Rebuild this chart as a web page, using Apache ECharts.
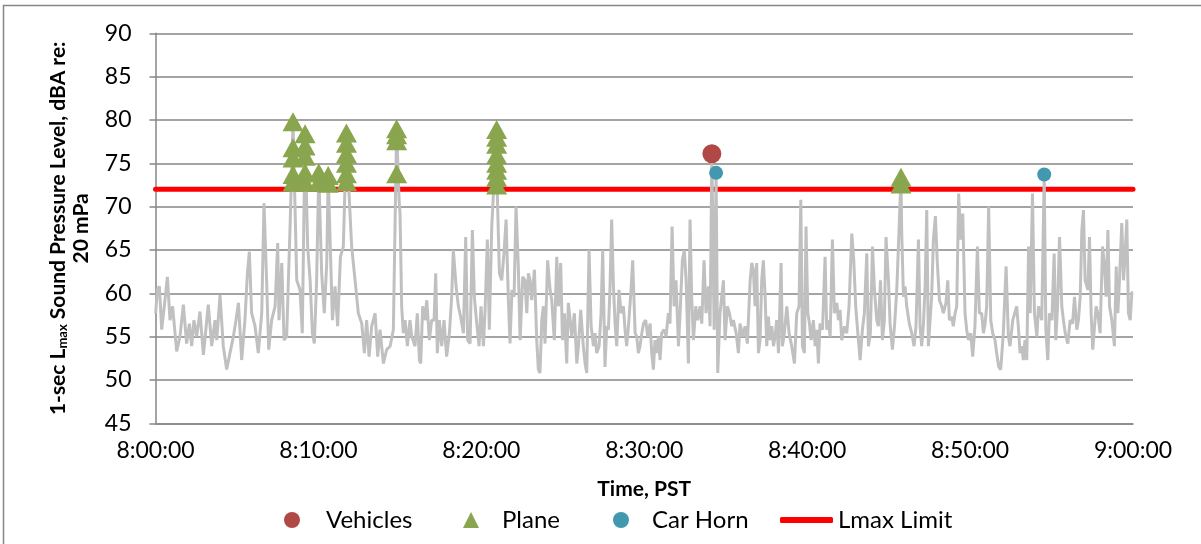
<!DOCTYPE html>
<html><head><meta charset="utf-8">
<script src="https://cdn.jsdelivr.net/npm/echarts/dist/echarts.min.js"></script>
<style>html,body{margin:0;padding:0;background:#fff}#c{width:1201px;height:544px}</style>
</head><body><div id="c"></div><script>
// x values are minutes after 8:00:00
const xTickLabels = ['8:00:00','8:10:00','8:20:00','8:30:00','8:40:00','8:50:00','9:00:00'];
const lmaxLimit = 72;
const lmaxTrace = [
[0.01,57.7],[0.11,60.4],[0.24,60.8],[0.38,55.8],[0.58,59.2],[0.73,61.9],[0.89,56.9],[1.05,58.5],[1.30,53.3],[1.50,55.0],
[1.71,58.7],[1.91,54.2],[2.08,56.5],[2.22,53.9],[2.36,56.9],[2.53,55.0],[2.73,57.9],[2.94,52.9],[3.24,58.7],[3.45,53.9],
[3.65,56.9],[3.76,54.6],[3.96,59.8],[4.16,53.9],[4.37,51.2],[4.57,53.1],[4.78,55.0],[4.94,56.9],[5.09,58.9],[5.29,52.3],
[5.49,56.9],[5.64,62.3],[5.76,64.8],[5.90,57.7],[6.11,56.2],[6.31,53.1],[6.52,57.7],[6.66,70.4],[6.82,61.5],[6.95,53.5],
[7.13,56.9],[7.34,58.5],[7.50,65.8],[7.58,56.9],[7.75,63.5],[7.89,54.6],[8.05,55.0],[8.26,67.7],[8.44,79.8],[8.67,61.5],
[8.87,60.4],[9.01,55.4],[9.18,78.4],[9.34,65.4],[9.49,61.5],[9.63,55.4],[9.75,54.2],[9.89,61.5],[10.02,73.9],[10.20,62.3],
[10.36,57.7],[10.51,63.5],[10.60,73.6],[10.86,56.9],[11.02,60.8],[11.18,56.2],[11.35,64.2],[11.53,65.4],[11.72,78.5],[11.88,71.5],
[12.04,65.4],[12.25,61.5],[12.45,57.7],[12.66,56.5],[12.82,53.1],[12.96,56.9],[13.11,52.7],[13.27,56.2],[13.48,57.7],[13.64,52.7],
[13.78,55.8],[13.99,51.9],[14.19,53.5],[14.40,53.9],[14.60,55.8],[14.80,79.0],[14.95,70.8],[15.01,69.2],[15.11,58.5],[15.21,55.4],
[15.32,56.9],[15.46,53.9],[15.62,56.9],[15.73,55.0],[15.93,53.9],[16.07,57.7],[16.20,52.3],[16.28,51.9],[16.40,58.5],[16.54,56.9],
[16.65,59.2],[16.81,54.6],[16.95,56.9],[17.10,56.9],[17.20,62.3],[17.30,53.1],[17.42,56.9],[17.57,53.9],[17.71,56.9],[17.87,52.7],
[18.04,55.4],[18.18,59.6],[18.28,65.0],[18.45,60.8],[18.59,58.5],[18.73,57.3],[18.90,55.4],[19.04,66.5],[19.16,54.6],[19.31,54.2],
[19.45,67.3],[19.57,59.6],[19.72,56.5],[19.86,53.9],[19.98,58.5],[20.13,53.9],[20.23,58.1],[20.37,66.2],[20.49,55.8],[20.64,67.7],
[20.94,78.9],[20.98,71.5],[21.11,62.3],[21.25,61.5],[21.39,64.6],[21.52,68.5],[21.66,59.2],[21.76,54.2],[21.88,60.4],[22.01,59.6],
[22.13,70.0],[22.27,63.1],[22.38,54.6],[22.54,61.9],[22.68,61.5],[22.79,57.7],[22.89,62.3],[22.99,61.5],[23.09,59.2],[23.26,62.7],
[23.40,54.6],[23.50,51.2],[23.60,50.8],[23.71,56.9],[23.81,58.5],[23.91,54.2],[24.07,63.8],[24.22,60.4],[24.32,59.2],[24.48,54.6],
[24.63,64.2],[24.73,58.5],[24.87,63.5],[24.98,54.6],[25.10,57.7],[25.24,51.9],[25.34,58.9],[25.45,56.9],[25.55,55.0],[25.71,57.7],
[25.86,51.9],[25.96,53.9],[26.10,58.1],[26.26,53.9],[26.37,51.9],[26.47,50.8],[26.61,65.0],[26.74,56.2],[26.88,53.9],[26.98,55.4],
[27.08,53.1],[27.23,53.9],[27.35,57.7],[27.45,65.0],[27.59,51.5],[27.70,56.2],[27.80,55.8],[27.90,60.8],[28.00,68.5],[28.11,60.8],
[28.21,56.5],[28.31,53.9],[28.45,60.4],[28.58,57.7],[28.72,58.5],[28.82,55.8],[28.92,53.9],[29.03,56.2],[29.19,60.4],[29.29,63.8],
[29.44,55.4],[29.54,55.0],[29.64,53.1],[29.74,53.9],[29.85,55.4],[29.95,56.5],[30.09,56.9],[30.21,55.0],[30.36,56.5],[30.46,53.1],
[30.56,51.2],[30.66,54.6],[30.77,53.1],[30.87,55.0],[30.97,52.3],[31.07,55.4],[31.22,55.8],[31.34,55.0],[31.48,57.7],[31.58,56.5],
[31.71,67.7],[31.83,58.5],[31.95,61.5],[32.10,53.9],[32.20,57.7],[32.34,63.8],[32.46,65.0],[32.57,61.5],[32.71,51.9],[32.81,68.5],
[32.91,59.6],[33.02,54.6],[33.16,58.5],[33.28,56.9],[33.43,58.5],[33.53,56.5],[33.67,63.8],[33.79,57.7],[33.94,60.8],[34.04,56.2],
[34.15,76.1],[34.29,55.8],[34.41,73.9],[34.51,50.8],[34.65,57.7],[34.86,61.5],[34.96,54.6],[35.10,58.5],[35.23,57.7],[35.37,56.2],
[35.47,56.9],[35.64,55.4],[35.78,53.1],[35.88,56.5],[36.05,55.0],[36.19,56.2],[36.33,54.2],[36.50,61.5],[36.60,63.5],[36.70,62.7],
[36.80,58.5],[36.90,63.5],[37.01,53.1],[37.11,54.6],[37.21,61.5],[37.31,63.8],[37.42,59.6],[37.52,53.9],[37.62,57.3],[37.72,54.6],
[37.83,56.2],[37.93,53.9],[38.03,55.0],[38.13,56.9],[38.24,53.1],[38.40,63.5],[38.48,53.9],[38.60,55.4],[38.75,58.5],[38.89,55.4],
[39.05,53.9],[39.22,51.9],[39.36,57.7],[39.50,58.5],[39.61,70.8],[39.71,53.9],[39.83,53.1],[39.93,67.7],[40.04,57.7],[40.14,56.5],
[40.24,54.6],[40.38,56.9],[40.49,53.9],[40.59,55.8],[40.69,51.9],[40.79,56.5],[40.94,55.8],[41.10,64.2],[41.20,55.8],[41.30,56.9],
[41.41,55.0],[41.55,66.2],[41.67,57.7],[41.82,58.9],[41.92,56.9],[42.02,58.1],[42.12,54.6],[42.29,56.2],[42.43,55.4],[42.57,58.5],
[42.74,66.9],[42.86,63.8],[42.98,58.5],[43.11,55.4],[43.25,52.3],[43.39,55.8],[43.51,57.7],[43.66,64.6],[43.76,53.9],[43.88,55.4],
[44.01,65.4],[44.13,60.4],[44.27,56.9],[44.37,56.2],[44.50,61.5],[44.62,54.6],[44.74,56.9],[44.84,66.5],[44.99,61.5],[45.09,56.5],
[45.23,53.5],[45.36,56.2],[45.50,60.4],[45.76,73.4],[45.80,67.3],[45.91,59.6],[46.01,60.8],[46.11,58.5],[46.27,56.5],[46.42,55.4],
[46.56,53.9],[46.68,56.2],[46.83,66.2],[46.93,56.2],[47.03,53.9],[47.13,56.2],[47.24,60.8],[47.34,69.6],[47.44,53.9],[47.54,53.9],
[47.64,59.6],[47.75,66.2],[47.87,68.9],[47.99,63.5],[48.12,59.2],[48.26,58.5],[48.36,57.7],[48.52,58.9],[48.63,61.5],[48.73,56.9],
[48.87,57.3],[48.97,56.2],[49.08,57.7],[49.18,58.5],[49.30,71.5],[49.42,66.2],[49.55,69.2],[49.69,57.7],[49.79,55.8],[49.90,54.6],
[50.04,55.4],[50.16,52.7],[50.30,56.2],[50.45,65.4],[50.57,57.7],[50.71,57.7],[50.82,55.4],[50.92,56.5],[51.02,58.5],[51.14,70.0],
[51.27,56.9],[51.39,55.4],[51.53,54.6],[51.63,53.1],[51.76,51.5],[51.88,51.2],[52.04,55.4],[52.21,63.1],[52.35,55.0],[52.45,53.9],
[52.62,56.9],[52.74,57.7],[52.86,58.5],[52.96,56.2],[53.07,53.1],[53.17,53.9],[53.27,52.3],[53.37,54.6],[53.48,52.3],[53.59,65.4],
[53.69,57.7],[53.83,71.5],[53.95,57.7],[54.10,55.0],[54.20,58.5],[54.30,57.7],[54.40,56.9],[54.55,73.7],[54.65,55.8],[54.77,52.3],
[54.87,57.7],[55.02,56.9],[55.16,64.6],[55.26,54.6],[55.37,58.5],[55.49,66.5],[55.63,58.5],[55.73,56.9],[55.84,55.4],[56.00,54.2],
[56.14,56.9],[56.29,56.5],[56.41,59.6],[56.55,55.8],[56.65,56.9],[56.76,59.6],[56.86,67.3],[56.96,69.6],[57.06,61.5],[57.23,60.4],
[57.33,66.5],[57.43,57.7],[57.53,53.5],[57.64,56.2],[57.74,58.5],[57.84,57.7],[57.98,55.4],[58.13,65.4],[58.25,63.1],[58.35,59.6],
[58.46,67.3],[58.56,58.5],[58.70,56.9],[58.86,53.9],[58.97,63.1],[59.07,57.7],[59.17,61.5],[59.31,68.1],[59.42,61.5],[59.52,64.6],
[59.62,68.5],[59.72,57.7],[59.83,56.9],[59.93,60.1],[60.00,60.1]
];
const planeMinutes = [8.44,8.44,8.44,8.44,8.44, 9.18,9.18,9.18,9.18,9.18, 10.02,10.02, 10.60,10.60,
  11.72,11.72,11.72,11.72,11.72,11.72, 14.80,14.80,14.80,14.80,
  20.94,20.94,20.94,20.94,20.94,20.94,20.94,20.94, 45.76,45.76];
const planeDb = [79.8,76.8,75.6,73.7,72.8, 78.4,77.0,75.8,73.9,72.8, 73.9,72.8, 73.6,72.7,
  78.5,77.3,76.1,75.0,73.8,72.9, 79.0,78.3,77.6,73.8,
  78.9,78.0,77.2,76.0,75.0,74.2,73.4,72.5, 73.4,72.6];
const vehicleMinutes = [34.15];
const vehicleDb = [76.1];
const hornMinutes = [34.41, 54.55];
const hornDb = [73.9, 73.7];

const FONT = 'Lato';
const axisGray = '#868686';
const zip = (a, b) => a.map((v, i) => [v, b[i]]);

const chart = echarts.init(document.getElementById('c'), null, {renderer: 'canvas'});
const legendText = {fontFamily: FONT, fontSize: 24, color: '#000'};
const legendBase = {orient: 'horizontal', top: 508, padding: 0, itemHeight: 16, itemGap: 0, selectedMode: false};
chart.setOption({
  animation: false,
  backgroundColor: '#fff',
  textStyle: {fontFamily: FONT},
  grid: {left: 155.5, right: 68, top: 33.3, bottom: 120.7, containLabel: false},
  graphic: [{type: 'rect', shape: {x: 3.5, y: 5.5, width: 1400, height: 800}, style: {fill: null, stroke: axisGray, lineWidth: 1.5}, silent: true}],
  legend: [
    Object.assign({}, legendBase, {left: 284, itemWidth: 16, data: ['Vehicles'], textStyle: Object.assign({}, legendText, {padding: [0, 0, 0, 21]})}),
    Object.assign({}, legendBase, {left: 463, itemWidth: 16, data: ['Plane'], textStyle: Object.assign({}, legendText, {padding: [0, 0, 0, 18]})}),
    Object.assign({}, legendBase, {left: 613, itemWidth: 16, data: ['Car Horn'], textStyle: Object.assign({}, legendText, {padding: [0, 0, 0, 18]})}),
    Object.assign({}, legendBase, {left: 780, itemWidth: 53, itemHeight: 6,
      data: [{name: 'Lmax Limit', icon: 'roundRect'}], textStyle: legendText})
  ],
  xAxis: {
    type: 'value', min: 0, max: 60, interval: 10,
    name: 'Time, PST', nameLocation: 'middle', nameGap: 55,
    nameTextStyle: {fontFamily: FONT, fontSize: 21, fontWeight: 'bold', color: '#000'},
    axisLine: {show: true, lineStyle: {color: axisGray, width: 1.5}},
    axisTick: {show: false},
    splitLine: {show: false},
    axisLabel: {fontFamily: FONT, fontSize: 23, color: '#000', margin: 16,
      formatter: v => xTickLabels[Math.round(v / 10)]}
  },
  yAxis: {
    type: 'value', min: 45, max: 90, interval: 5,
    name: '{b|1-sec L}{s|max}{b| Sound Pressure Level, dBA re:}\n{b|20 mPa}',
    nameLocation: 'middle', nameRotate: 90, nameGap: 63,
    nameTextStyle: {align: 'center', rich: {
      b: {fontFamily: FONT, fontSize: 21, fontWeight: 'bold', color: '#000', lineHeight: 23},
      s: {fontFamily: FONT, fontSize: 13, fontWeight: 'bold', color: '#000', lineHeight: 23, verticalAlign: 'bottom', padding: [8, 0, 0, 0]}
    }},
    axisLine: {show: true, lineStyle: {color: axisGray, width: 1.5}},
    axisTick: {show: true, inside: false, length: 6, lineStyle: {color: axisGray, width: 1.5}},
    splitLine: {show: true, lineStyle: {color: axisGray, width: 1.5}},
    axisLabel: {fontFamily: FONT, fontSize: 23, color: '#000', margin: 24}
  },
  series: [
    {name: 'Lmax Limit', type: 'line', z: 2, data: [[0, lmaxLimit], [60, lmaxLimit]], showSymbol: false, symbol: 'none',
      lineStyle: {color: '#FF0000', width: 5, cap: 'round'}, itemStyle: {color: '#FF0000'}},
    {name: '1-sec Lmax', type: 'line', z: 3, data: lmaxTrace, showSymbol: false, symbol: 'none',
      lineStyle: {color: '#C0C0C0', width: 3}, itemStyle: {color: '#C0C0C0'}},
    {name: 'Vehicles', type: 'scatter', z: 5, data: zip(vehicleMinutes, vehicleDb), symbol: 'circle', symbolSize: 19,
      itemStyle: {color: '#B04945', opacity: 1}},
    {name: 'Plane', type: 'scatter', z: 4, data: zip(planeMinutes, planeDb), symbol: 'triangle', symbolSize: [21, 19],
      itemStyle: {color: '#89A54E', opacity: 1}},
    {name: 'Car Horn', type: 'scatter', z: 5, data: zip(hornMinutes, hornDb), symbol: 'circle', symbolSize: 14,
      itemStyle: {color: '#4198AF', opacity: 1}}
  ]
});
</script></body></html>
